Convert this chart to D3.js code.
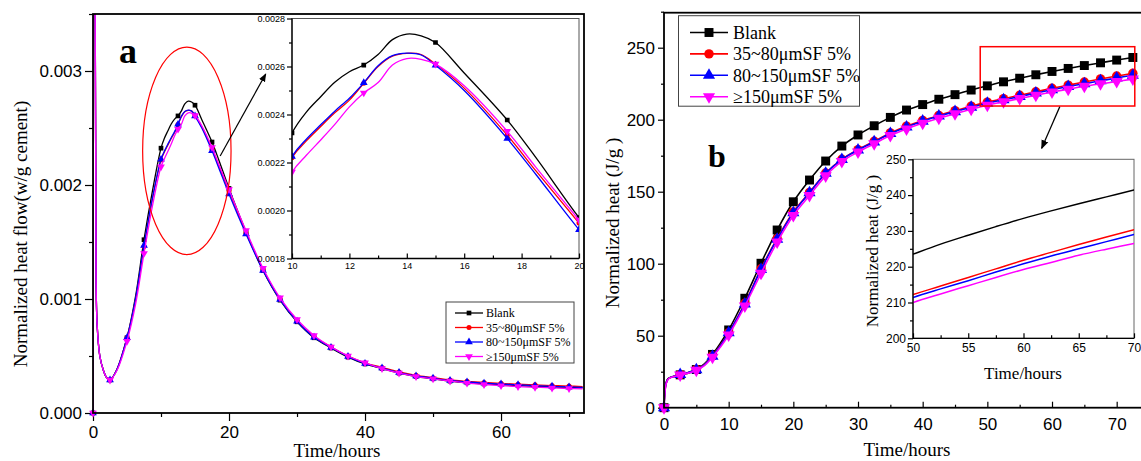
<!DOCTYPE html>
<html>
<head>
<meta charset="utf-8">
<script src="https://cdn.jsdelivr.net/npm/d3@7"></script>
<style>
  body { margin: 0; background: #fff; }
  svg { display: block; }
  .tick text { font-family: "Liberation Sans", Arial, sans-serif; fill: #000; }
  .serif { font-family: "Liberation Serif", "Times New Roman", serif; fill: #000; }
</style>
</head>
<body>
<svg id="chart" width="1141" height="461"></svg>
<script>
// ---- data: panel a, heat flow (w/g cement) vs time (hours)
const timeA = [0, 0.1, 0.3, 0.45, 0.6, 1, 1.5, 2, 2.5, 3.5, 5, 6.25, 7.5, 8.75,
  10, 10.5, 11, 11.5, 12, 12.5, 13, 13.5, 14, 14.5, 15, 16, 17.5, 18.5, 20,
  22.5, 25, 27.5, 30, 32.5, 35, 37.5, 40, 42.5, 45, 47.5, 50, 52.5, 55, 57.5,
  60, 62.5, 65, 67.5, 70, 72]

const blankFlow = [0, 0.012, 0.004, 0.0012, 0.00078, 0.0005, 0.00038, 0.00031, 0.00029,
  0.00038, 0.00066, 0.00102, 0.00152, 0.00195,
  0.002323, 0.00241, 0.002474, 0.002535, 0.002578,
  0.002606, 0.00265, 0.002712, 0.002735, 0.002728,
  0.0027, 0.002573, 0.002377, 0.00222, 0.00197,
  0.00159, 0.00125, 0.00099, 0.0008, 0.00066,
  0.00057, 0.00049, 0.00043, 0.00039, 0.00035,
  0.00032, 0.0003, 0.00028, 0.000265, 0.000255,
  0.000248, 0.00024, 0.000233, 0.000228, 0.000224, 0.000221]

const sf35Flow = [0, 0.012, 0.004, 0.0012, 0.00078, 0.0005, 0.00038, 0.00031, 0.00029,
  0.00038, 0.00066, 0.00099, 0.00146, 0.00188,
  0.00222, 0.00229, 0.00235, 0.002408, 0.00246,
  0.00253, 0.0026, 0.002643, 0.002655, 0.00265,
  0.00261, 0.00251, 0.002314, 0.002165, 0.001948,
  0.00158, 0.00126, 0.001, 0.00081, 0.00067,
  0.00058, 0.0005, 0.00044, 0.0004, 0.00036,
  0.00033, 0.00031, 0.00029, 0.000278, 0.000268,
  0.00026, 0.000253, 0.000247, 0.000241, 0.000236, 0.000232]

const sf80Flow = [0, 0.012, 0.004, 0.0012, 0.00078, 0.0005, 0.00038, 0.00031, 0.00029,
  0.00038, 0.00066, 0.001, 0.00147, 0.00189,
  0.002225, 0.002297, 0.002357, 0.002415, 0.002468,
  0.002532, 0.002603, 0.002645, 0.002656, 0.002648,
  0.002605, 0.0025, 0.0023, 0.00215, 0.00192,
  0.00157, 0.00125, 0.000995, 0.000805, 0.000665,
  0.000575, 0.000495, 0.000435, 0.000395, 0.000355,
  0.000325, 0.000305, 0.000285, 0.000272, 0.000262,
  0.000254, 0.000247, 0.00024, 0.000234, 0.000229, 0.000225]

const sf150Flow = [0, 0.012, 0.004, 0.0012, 0.00078, 0.0005, 0.00038, 0.00031, 0.00029,
  0.00037, 0.00063, 0.00095, 0.0014, 0.00182,
  0.00216, 0.00223, 0.002294, 0.00236, 0.002432,
  0.00249, 0.002533, 0.002606, 0.002633, 0.00263,
  0.00261, 0.00252, 0.00233, 0.00218, 0.00196,
  0.0016, 0.00127, 0.00101, 0.00082, 0.00068,
  0.00058, 0.0005, 0.00044, 0.00039, 0.00035,
  0.00032, 0.0003, 0.00028, 0.000262, 0.00025,
  0.00024, 0.000232, 0.000226, 0.00022, 0.000215, 0.000211]

// ---- data: panel b, cumulative heat (J/g) vs time (hours)
const timeB = [0, 0.1, 0.3, 0.6, 1, 1.5, 2.5, 3.75, 5, 6.25, 7.5, 8.75,
  10, 12.5, 15, 17.5, 20, 22.5, 25, 27.5, 30, 32.5, 35, 37.5, 40, 42.5, 45,
  47.5, 50, 52.5, 55, 57.5, 60, 62.5, 65, 67.5, 70, 72.5]

const blankHeat = [0, 9, 17, 20, 21, 21.6, 22.8, 24, 26.5, 30.5, 37, 45,
  54, 76, 100.3, 123.4, 143, 158.1, 171.3, 181.7, 189.4, 195.8,
  201.6, 206.7, 210.5, 214.2, 217.4, 220.6, 223.5, 226.3, 228.8, 231.2,
  233.5, 235.6, 237.6, 239.5, 241.4, 243.2]

const sf35Heat = [0, 8.5, 16.5, 19.8, 21, 21.8, 23, 24.5, 26.5, 30, 36, 43.5,
  52, 72.5, 96.5, 117.5, 136, 149.5, 163, 172.5, 179.2, 185,
  190.8, 195.5, 199.5, 203, 206.3, 209.4, 212.2, 214.6, 217, 219.4,
  221.8, 224, 226.2, 228.3, 230.3, 232.2]

const sf80Heat = [0, 8.5, 16.5, 19.8, 21, 21.8, 23, 24.5, 26.3, 29.8, 35.8, 43.2,
  52, 72, 96, 117, 135.4, 149.3, 162.8, 172.3, 179, 184.6,
  190.4, 195, 199, 202.5, 205.6, 208.6, 211.4, 213.8, 216.1, 218.5,
  220.8, 223, 225, 227, 229, 230.9]

const sf150Heat = [0, 8, 16, 19.5, 20.8, 21.6, 22.7, 24, 26, 29.3, 35, 42.3,
  50.5, 70.6, 93.3, 115, 133.5, 147.4, 161, 171, 177.5, 183.3,
  189, 193.6, 197.5, 201, 204.2, 207.2, 210, 212.4, 214.7, 217,
  219.2, 221.2, 223.2, 224.9, 226.5, 228.2]

const seriesNames = ["Blank", "35~80μmSF 5%", "80~150μmSF 5%", "≥150μmSF 5%"]

// ---- tick labels
const flowTicks = [0, 0.001, 0.002, 0.003]
const flowMinorTicks = [0.0005, 0.0015, 0.0025, 0.0035]
const timeTicksA = [0, 20, 40, 60]
const timeMinorTicksA = [10, 30, 50, 70]
const insetFlowTicks = [0.0018, 0.002, 0.0022, 0.0024, 0.0026, 0.0028]
const insetFlowMinor = [0.0019, 0.0021, 0.0023, 0.0025, 0.0027]
const insetTimeTicksA = [10, 12, 14, 16, 18, 20]
const insetTimeMinorA = [11, 13, 15, 17, 19]
const heatTicks = [0, 50, 100, 150, 200, 250]
const heatMinorTicks = [25, 75, 125, 175, 225, 275]
const timeTicksB = [0, 10, 20, 30, 40, 50, 60, 70]
const timeMinorTicksB = [5, 15, 25, 35, 45, 55, 65]
const insetHeatTicks = [200, 210, 220, 230, 240, 250]
const insetHeatMinor = [205, 215, 225, 235, 245]
const insetTimeTicksB = [50, 55, 60, 65, 70]
const insetTimeMinorB = [52.5, 57.5, 62.5, 67.5]

// ---- style
const colors = ["#000000", "#ff0000", "#0000ff", "#ff00ff"]
const symbols = [d3.symbolSquare, d3.symbolCircle, d3.symbolTriangle, d3.symbolTriangle]
const flipped = [false, false, false, true]

const svg = d3.select("#chart")
const defs = svg.append("defs")

defs.append("marker")
    .attr("id", "arrow")
    .attr("viewBox", "0 0 10 10")
    .attr("refX", 9).attr("refY", 5)
    .attr("markerWidth", 7).attr("markerHeight", 7)
    .attr("orient", "auto")
  .append("path")
    .attr("d", "M0,1 L10,5 L0,9 Z")
    .attr("fill", "#000")

function addClip(id, x, y) {
  const [x0, x1] = x.range()
  const [y0, y1] = y.range()
  defs.append("clipPath").attr("id", id)
    .append("rect")
      .attr("x", Math.min(x0, x1)).attr("y", Math.min(y0, y1))
      .attr("width", Math.abs(x1 - x0)).attr("height", Math.abs(y1 - y0))
}

function marker(g, i, size, cx, cy) {
  g.append("path")
    .attr("d", d3.symbol().type(symbols[i]).size(size)())
    .attr("transform", `translate(${cx},${cy})` + (flipped[i] ? " rotate(180)" : ""))
    .attr("fill", colors[i])
}

function drawSeries(g, x, y, times, values, i, opts) {
  const points = times.map((t, k) => [t, values[k]])
  const line = d3.line()
    .x(d => x(d[0]))
    .y(d => y(d[1]))
    .curve(d3.curveCatmullRom.alpha(0.5))

  g.append("g").attr("clip-path", `url(#${opts.clip})`)
    .append("path")
      .datum(points)
      .attr("d", line)
      .attr("fill", "none")
      .attr("stroke", colors[i])
      .attr("stroke-width", opts.width)

  if (!opts.markerSize) return
  const [d0, d1] = x.domain()
  const mg = g.append("g")
  if (opts.clipMarkers) mg.attr("clip-path", `url(#${opts.clip})`)
  points
    .filter(d => Math.abs(d[0] / 2.5 - Math.round(d[0] / 2.5)) < 1e-9 && d[0] >= d0 && d[0] <= d1)
    .forEach(d => marker(mg, i, opts.markerSize[i], x(d[0]), y(d[1])))
}

function axis(g, gen, transform, fontSize) {
  const a = g.append("g").attr("transform", transform).call(gen)
  a.attr("font-size", fontSize)
  a.select(".domain").remove()
  a.selectAll(".tick line").attr("stroke", "#000").attr("stroke-width", 1.2)
  return a
}

function label(g, text, x, y, size, rotate, weight) {
  return g.append("text")
    .attr("class", "serif")
    .attr("transform", `translate(${x},${y})` + (rotate ? " rotate(-90)" : ""))
    .attr("text-anchor", "middle")
    .attr("dy", rotate ? "0.35em" : null)
    .attr("font-size", size)
    .attr("font-weight", weight || "normal")
    .text(text)
}

// =================== panel a ===================
const flowSeries = [blankFlow, sf35Flow, sf80Flow, sf150Flow]
const xA = d3.scaleLinear().domain([0, 72.2]).range([93, 584])
const yA = d3.scaleLinear().domain([0, 0.0035]).range([413, 14])
addClip("clipA", xA, yA)

const gA = svg.append("g")

axis(gA, d3.axisLeft(yA).tickValues(flowTicks).tickFormat(d3.format(".3f")).tickSize(8).tickPadding(3),
  "translate(93,0)", 17)
axis(gA, d3.axisLeft(yA).tickValues(flowMinorTicks).tickFormat("").tickSize(4), "translate(93,0)", 17)
axis(gA, d3.axisBottom(xA).tickValues(timeTicksA).tickFormat(d3.format("d")).tickSize(8).tickPadding(5),
  "translate(0,413)", 17)
axis(gA, d3.axisBottom(xA).tickValues(timeMinorTicksA).tickFormat("").tickSize(4), "translate(0,413)", 17)

flowSeries.forEach((vals, i) =>
  drawSeries(gA, xA, yA, timeA, vals, i, { clip: "clipA", width: 1.3, markerSize: [22, 20, 26, 26] }))

gA.append("rect")
  .attr("x", 93).attr("y", 14).attr("width", 584 - 93).attr("height", 413 - 14)
  .attr("fill", "none").attr("stroke", "#000").attr("stroke-width", 1.8)

// red ellipse + arrow to the inset
gA.append("ellipse")
  .attr("cx", xA(13.8)).attr("cy", yA(0.0023))
  .attr("rx", xA(13.8 + 6.5) - xA(13.8)).attr("ry", yA(0.0023 - 0.00091) - yA(0.0023))
  .attr("fill", "none").attr("stroke", "#ff0000").attr("stroke-width", 1.2)
gA.append("line")
  .attr("x1", xA(18.7)).attr("y1", yA(0.002254))
  .attr("x2", xA(25.4)).attr("y2", yA(0.002974))
  .attr("stroke", "#000").attr("stroke-width", 1.2).attr("marker-end", "url(#arrow)")

label(gA, "a", 128, 63, 36, false, "bold")
label(gA, "Normalized heat flow(w/g cement)", 20, 234, 19, true)
label(gA, "Time/hours", 337, 457, 19, false)

// inset a
const xIa = d3.scaleLinear().domain([10, 20]).range([292, 579])
const yIa = d3.scaleLinear().domain([0.0018, 0.0028]).range([258.5, 18.5])
addClip("clipIa", xIa, yIa)
const gIa = svg.append("g")
gIa.append("rect")
  .attr("x", 292).attr("y", 18.5).attr("width", 579 - 292).attr("height", 258.5 - 18.5)
  .attr("fill", "#fff").attr("stroke", "#555").attr("stroke-width", 1)

axis(gIa, d3.axisLeft(yIa).tickValues(insetFlowTicks).tickFormat(d3.format(".4f")).tickSize(5).tickPadding(2),
  "translate(292,0)", 9)
axis(gIa, d3.axisLeft(yIa).tickValues(insetFlowMinor).tickFormat("").tickSize(3), "translate(292,0)", 9)
axis(gIa, d3.axisBottom(xIa).tickValues(insetTimeTicksA).tickFormat(d3.format("d")).tickSize(-5).tickPadding(4),
  "translate(0,258.5)", 9)
axis(gIa, d3.axisBottom(xIa).tickValues(insetTimeMinorA).tickFormat("").tickSize(-3), "translate(0,258.5)", 9)

flowSeries.forEach((vals, i) =>
  drawSeries(gIa, xIa, yIa, timeA, vals, i, { clip: "clipIa", width: 1.3, markerSize: [22, 20, 26, 26], clipMarkers: true }))

gIa.append("path")
  .attr("d", `M292,18.5 V258.5 H579`)
  .attr("fill", "none").attr("stroke", "#000").attr("stroke-width", 1.3)

// legend a
const legA = svg.append("g")
legA.append("rect")
  .attr("x", 446).attr("y", 302).attr("width", 128).attr("height", 61)
  .attr("fill", "#fff").attr("stroke", "#444").attr("stroke-width", 1)
seriesNames.forEach((name, i) => {
  const cy = 313 + i * 14.5
  legA.append("line").attr("x1", 455).attr("x2", 483).attr("y1", cy).attr("y2", cy)
    .attr("stroke", colors[i]).attr("stroke-width", 1.3)
  marker(legA, i, [22, 20, 26, 26][i], 469, cy)
  legA.append("text").attr("class", "serif")
    .attr("x", 486).attr("y", cy).attr("dy", "0.35em")
    .attr("font-size", 12).text(name)
})

// =================== panel b ===================
const heatSeries = [blankHeat, sf35Heat, sf80Heat, sf150Heat]
const xB = d3.scaleLinear().domain([0, 74.07]).range([664, 1143])
const yB = d3.scaleLinear().domain([0, 275]).range([407.7, 11.7])
addClip("clipB", xB, yB)

const gB = svg.append("g")

axis(gB, d3.axisLeft(yB).tickValues(heatTicks).tickFormat(d3.format("d")).tickSize(6).tickPadding(3),
  "translate(664,0)", 17)
axis(gB, d3.axisLeft(yB).tickValues(heatMinorTicks).tickFormat("").tickSize(3), "translate(664,0)", 17)
axis(gB, d3.axisBottom(xB).tickValues(timeTicksB).tickFormat(d3.format("d")).tickSize(-6).tickPadding(10),
  "translate(0,407.7)", 17)
axis(gB, d3.axisBottom(xB).tickValues(timeMinorTicksB).tickFormat("").tickSize(-3), "translate(0,407.7)", 17)

heatSeries.forEach((vals, i) =>
  drawSeries(gB, xB, yB, timeB, vals, i, { clip: "clipB", width: 1.6, markerSize: [80, 70, 64, 64] }))

gB.append("rect")
  .attr("x", 664).attr("y", 12.7).attr("width", 1143 - 664).attr("height", 407.7 - 12.7)
  .attr("fill", "none").attr("stroke", "#000").attr("stroke-width", 1.8)

// red zoom box + arrow
gB.append("rect")
  .attr("x", xB(48.9)).attr("y", yB(250.7))
  .attr("width", xB(72.8) - xB(48.9)).attr("height", yB(209.5) - yB(250.7))
  .attr("fill", "none").attr("stroke", "#ff0000").attr("stroke-width", 1.5)
gB.append("line")
  .attr("x1", xB(61.2)).attr("y1", yB(209))
  .attr("x2", xB(58.4)).attr("y2", yB(180.1))
  .attr("stroke", "#000").attr("stroke-width", 1.3).attr("marker-end", "url(#arrow)")

label(gB, "b", 717, 167, 32, false, "bold")
label(gB, "Normalized heat (J/g )", 612, 223, 19, true)
label(gB, "Time/hours", 907, 456, 19, false)

// legend b
const legB = svg.append("g")
legB.append("rect")
  .attr("x", 678.5).attr("y", 15.7).attr("width", 181).attr("height", 90.5)
  .attr("fill", "#fff").attr("stroke", "#444").attr("stroke-width", 1)
seriesNames.forEach((name, i) => {
  const cy = 32.5 + i * 21.4
  legB.append("line").attr("x1", 690).attr("x2", 728).attr("y1", cy).attr("y2", cy)
    .attr("stroke", colors[i]).attr("stroke-width", 1.6)
  marker(legB, i, [80, 70, 64, 64][i], 709, cy)
  legB.append("text").attr("class", "serif")
    .attr("x", 733).attr("y", cy).attr("dy", "0.35em")
    .attr("font-size", 18).text(name)
})

// inset b
const xIb = d3.scaleLinear().domain([50, 70]).range([913, 1134])
const yIb = d3.scaleLinear().domain([200, 250]).range([338.3, 159.3])
addClip("clipIb", xIb, yIb)
const gIb = svg.append("g")
gIb.append("rect")
  .attr("x", 913).attr("y", 159.3).attr("width", 1134 - 913).attr("height", 338.3 - 159.3)
  .attr("fill", "#fff").attr("stroke", "#666").attr("stroke-width", 1)

axis(gIb, d3.axisLeft(yIb).tickValues(insetHeatTicks).tickFormat(d3.format("d")).tickSize(5).tickPadding(2),
  "translate(913,0)", 12)
axis(gIb, d3.axisLeft(yIb).tickValues(insetHeatMinor).tickFormat("").tickSize(3), "translate(913,0)", 12)
axis(gIb, d3.axisBottom(xIb).tickValues(insetTimeTicksB).tickFormat(d3.format("d")).tickSize(-5).tickPadding(5),
  "translate(0,338.3)", 12)
axis(gIb, d3.axisBottom(xIb).tickValues(insetTimeMinorB).tickFormat("").tickSize(-3), "translate(0,338.3)", 12)

heatSeries.forEach((vals, i) =>
  drawSeries(gIb, xIb, yIb, timeB, vals, i, { clip: "clipIb", width: 1.5 }))

gIb.append("path")
  .attr("d", "M913,159.3 V338.3 H1134")
  .attr("fill", "none").attr("stroke", "#000").attr("stroke-width", 1.3)

label(gIb, "Normalized heat (J/g )", 872, 251, 17, true)
label(gIb, "Time/hours", 1023, 379, 17, false)
</script>
</body>
</html>
